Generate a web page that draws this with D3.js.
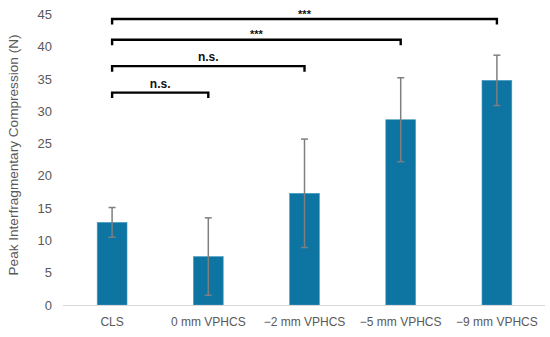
<!DOCTYPE html>
<html>
<head>
<meta charset="utf-8">
<script src="https://cdn.jsdelivr.net/npm/d3@7"></script>
<style>
  body { margin: 0; background: #fff; }
  svg { display: block; font-family: "Liberation Sans", Arial, sans-serif; }
</style>
</head>
<body>
<svg id="chart"></svg>
<script>
var width = 550;
var height = 337;

// data
var categories = ["CLS", "0 mm VPHCS", "\u22122 mm VPHCS", "\u22125 mm VPHCS", "\u22129 mm VPHCS"];
var means = [12.8, 7.5, 17.3, 28.7, 34.8];
var errors = [2.3, 6.0, 8.4, 6.5, 3.9];
var yTicks = [0, 5, 10, 15, 20, 25, 30, 35, 40, 45];

// significance brackets: from category, to category, bracket level (value), label
var bracketFrom = ["CLS", "CLS", "CLS", "CLS"];
var bracketTo = ["0 mm VPHCS", "\u22122 mm VPHCS", "\u22125 mm VPHCS", "\u22129 mm VPHCS"];
var bracketLevel = [32.9, 37, 41.1, 44.3];
var bracketLabel = ["n.s.", "n.s.", "***", "***"];

var margin = {top: 14, right: 5, bottom: 32, left: 64};

var svg = d3.select("#chart").attr("width", width).attr("height", height);

var x = d3.scaleBand()
    .domain(categories)
    .range([margin.left, width - margin.right])
    .paddingInner(0.69)
    .paddingOuter(0.345);

var y = d3.scaleLinear()
    .domain([0, 45])
    .range([305, 14.5]);

// y tick labels
svg.append("g")
    .selectAll("text")
    .data(yTicks)
    .enter().append("text")
    .attr("x", 52)
    .attr("y", function (d) { return y(d); })
    .attr("dy", "0.35em")
    .attr("text-anchor", "end")
    .style("font-size", "13px")
    .style("fill", "#595959")
    .text(function (d) { return d; });

// y axis title
svg.append("text")
    .attr("transform", "translate(18," + 155 + ") rotate(-90)")
    .attr("text-anchor", "middle")
    .style("font-size", "13.6px")
    .style("fill", "#595959")
    .text("Peak Interfragmentary Compression (N)");

// bars
svg.append("g")
    .selectAll("rect")
    .data(means)
    .enter().append("rect")
    .attr("x", function (d, i) { return x(categories[i]); })
    .attr("y", function (d) { return y(d); })
    .attr("width", x.bandwidth())
    .attr("height", function (d) { return y(0) - y(d); })
    .attr("fill", "#0e74a2")
    .attr("stroke", "#4a9cc2")
    .attr("stroke-width", 0.6);

// baseline
svg.append("line")
    .attr("x1", margin.left - 1)
    .attr("x2", width - margin.right)
    .attr("y1", y(0) + 0.5)
    .attr("y2", y(0) + 0.5)
    .attr("stroke", "#d9d9d9")
    .attr("stroke-width", 1);

// error bars
var err = svg.append("g")
    .attr("stroke", "#7f7f7f")
    .attr("stroke-width", 1.5)
    .selectAll("g")
    .data(means)
    .enter().append("g");

function cx(i) { return x(categories[i]) + x.bandwidth() / 2; }

err.append("line")
    .attr("x1", function (d, i) { return cx(i); })
    .attr("x2", function (d, i) { return cx(i); })
    .attr("y1", function (d, i) { return y(d + errors[i]); })
    .attr("y2", function (d, i) { return y(d - errors[i]); });

err.append("line")
    .attr("x1", function (d, i) { return cx(i) - 3.5; })
    .attr("x2", function (d, i) { return cx(i) + 3.5; })
    .attr("y1", function (d, i) { return y(d + errors[i]); })
    .attr("y2", function (d, i) { return y(d + errors[i]); });

err.append("line")
    .attr("x1", function (d, i) { return cx(i) - 3.5; })
    .attr("x2", function (d, i) { return cx(i) + 3.5; })
    .attr("y1", function (d, i) { return y(d - errors[i]); })
    .attr("y2", function (d, i) { return y(d - errors[i]); });

// x labels
svg.append("g")
    .selectAll("text")
    .data(categories)
    .enter().append("text")
    .attr("x", function (d) { return x(d) + x.bandwidth() / 2; })
    .attr("y", 322)
    .attr("dy", "0.35em")
    .attr("text-anchor", "middle")
    .style("font-size", "12px")
    .style("fill", "#595959")
    .text(function (d) { return d; });

// significance brackets
var br = svg.append("g")
    .selectAll("g")
    .data(bracketLevel)
    .enter().append("g");

br.append("path")
    .attr("d", function (d, i) {
        var x1 = x(bracketFrom[i]) + x.bandwidth() / 2;
        var x2 = x(bracketTo[i]) + x.bandwidth() / 2;
        var yy = y(d);
        return "M" + x1 + "," + (yy + 5.5) + "V" + yy + "H" + x2 + "V" + (yy + 5.5);
    })
    .attr("fill", "none")
    .attr("stroke", "#000")
    .attr("stroke-width", 2.4);

br.append("text")
    .attr("x", function (d, i) {
        var x1 = x(bracketFrom[i]) + x.bandwidth() / 2;
        var x2 = x(bracketTo[i]) + x.bandwidth() / 2;
        return (x1 + x2) / 2;
    })
    .attr("y", function (d, i) {
        return bracketLabel[i] === "***" ? y(d) - 1.5 : y(d) - 5;
    })
    .attr("text-anchor", "middle")
    .style("font-size", function (d, i) { return bracketLabel[i] === "***" ? "11px" : "12px"; })
    .style("font-weight", "bold")
    .style("fill", "#111")
    .text(function (d, i) { return bracketLabel[i]; });
</script>
</body>
</html>
